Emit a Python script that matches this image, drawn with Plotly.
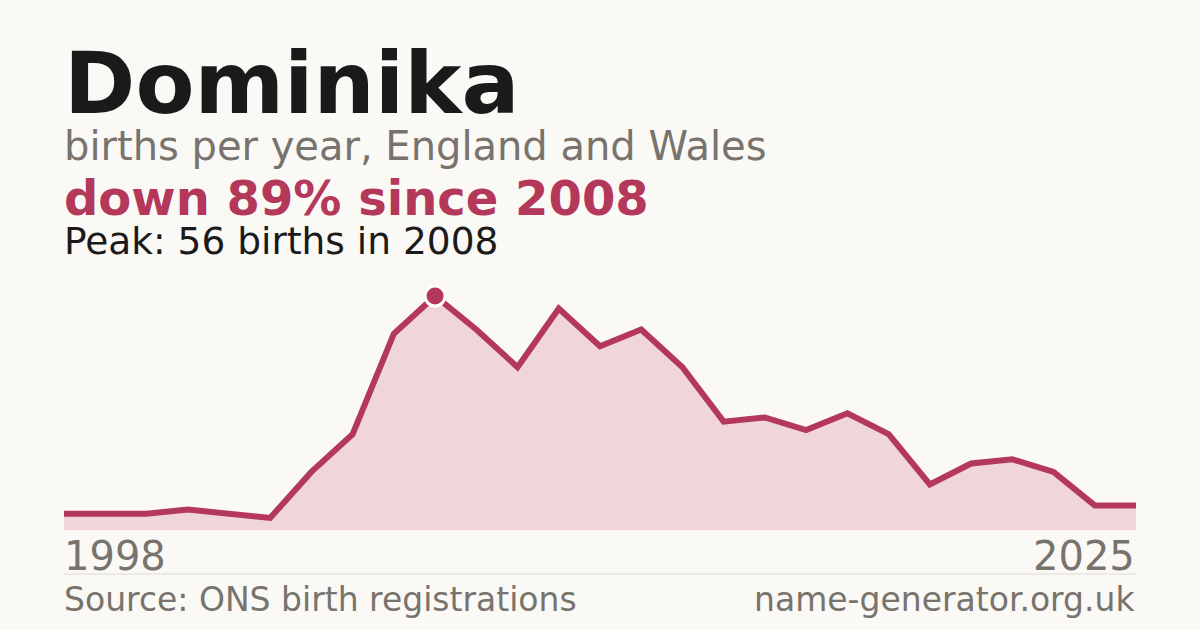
import plotly.graph_objects as go

# ---- data ----
name = "Dominika"
years = list(range(1998, 2026))
births = [4, 4, 4, 4, 5, 4, 3, 14, 23, 47, 56, 48, 39, 53, 44, 48, 39, 26, 27,
          24, 28, 23, 11, 16, 17, 14, 6, 6]
subtitle = "births per year, England and Wales"
source_label = "Source: ONS birth registrations"
site_label = "name-generator.org.uk"
start_label = "1998"
end_label = "2025"

# ---- derived ----
peak_val = max(births)
peak_year = years[births.index(peak_val)]
last_val = births[-1]
pct = round((peak_val - last_val) / peak_val * 100)

W, H = 1200, 630
BG = "#faf9f5"
RED = "#b3385a"
FILL = "#f0d5db"
DARK = "#1a1a1a"
GRAY = "#78736c"
FONT = "DejaVu Sans"

def px_x(p):
    return p / W

def px_y(p):
    return 1 - p / H

fig = go.Figure()
fig.add_trace(go.Scatter(
    x=years, y=births, mode="lines",
    line=dict(color=RED, width=6, shape="linear"),
    fill="tozeroy", fillcolor=FILL,
    hoverinfo="skip", showlegend=False,
))
fig.add_trace(go.Scatter(
    x=[peak_year], y=[peak_val], mode="markers",
    marker=dict(size=20, color=RED, line=dict(color="#ffffff", width=3)),
    cliponaxis=False, hoverinfo="skip", showlegend=False,
))

y_top = peak_val * (530.5 - 280) / (530.5 - 296)

fig.update_layout(
    width=W, height=H,
    margin=dict(l=0, r=0, t=0, b=0),
    paper_bgcolor=BG, plot_bgcolor=BG,
    xaxis=dict(domain=[px_x(64), px_x(1136)], range=[1999, 2025],
               visible=False, fixedrange=True),
    yaxis=dict(domain=[px_y(530.5), px_y(280)], range=[0, y_top],
               visible=False, fixedrange=True),
    font=dict(family=FONT),
)

def add_text(text, x, baseline, size, color, bold=False, anchor="left",
             tight=False):
    # centre of the font box relative to the baseline (DejaVu metrics)
    y_mid = baseline - 0.346 * size
    kw = {}
    if tight:
        kw = dict(height=round(0.9 * size), valign="middle")
    fig.add_annotation(
        text=f"<b>{text}</b>" if bold else text,
        x=px_x(x), y=px_y(y_mid), xref="paper", yref="paper",
        xanchor=anchor, yanchor="middle", showarrow=False,
        font=dict(family=FONT, size=size, color=color), **kw,
    )

add_text(name, 62, 112, 86, DARK, bold=True, tight=True)
add_text(subtitle, 62, 160, 40, GRAY)
add_text(f"down {pct}% since {peak_year}", 62, 214, 48, RED, bold=True,
         tight=True)
add_text(f"Peak: {peak_val} births in {peak_year}", 62, 254, 37.5, DARK,
         tight=True)
add_text(start_label, 62, 570, 40, GRAY)
add_text(end_label, 1137, 570, 40, GRAY, anchor="right")
add_text(source_label, 62, 611, 33, GRAY)
add_text(site_label, 1137, 611, 33, GRAY, anchor="right")

fig.add_shape(type="line", xref="paper", yref="paper",
              x0=px_x(64), x1=px_x(1136), y0=px_y(574), y1=px_y(574),
              line=dict(color="#dddad3", width=1))

fig.write_html(
    "out.html",
    config={"displayModeBar": False, "staticPlot": True},
    post_script="document.body.style.margin='0';"
                "document.body.style.background='" + BG + "';",
)
